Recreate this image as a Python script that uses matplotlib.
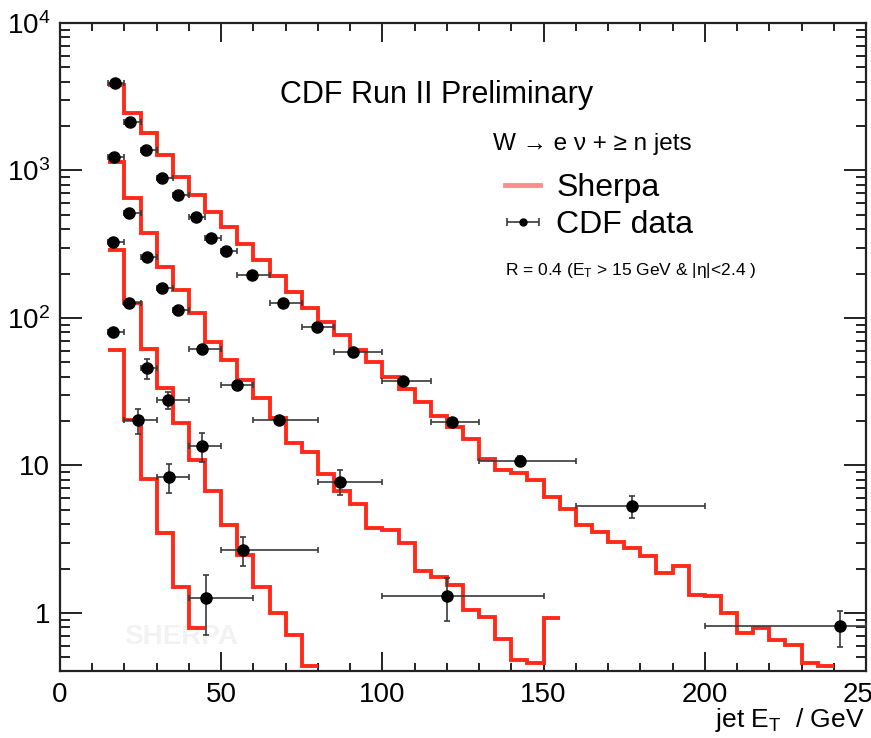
import numpy as np
import matplotlib
matplotlib.use('Agg')
import matplotlib.pyplot as plt
from matplotlib.ticker import MultipleLocator, LogLocator, NullFormatter

plt.rcParams['font.family'] = ['Liberation Sans', 'DejaVu Sans']
plt.rcParams['mathtext.fontset'] = 'custom'
plt.rcParams['mathtext.rm'] = 'Liberation Sans'
plt.rcParams['mathtext.it'] = 'Liberation Sans:italic'
plt.rcParams['mathtext.bf'] = 'Liberation Sans:bold'

# Sherpa predictions, 5 GeV bins from 15 GeV, for >=1, >=2, >=3, >=4 jets
bin_start = 15
bin_width = 5
sherpa_1j = [3800, 2455, 1796, 1274, 903, 682, 523, 414, 317, 247,
             192, 151, 116, 94, 77, 61, 50, 40, 33, 27,
             21.8, 18.3, 15.1, 11.0, 9.3, 8.9, 8.0, 6.1, 5.1, 3.95,
             3.56, 3.01, 2.75, 2.45, 1.86, 2.08, 1.32, 1.30, 1.0, 0.73,
             0.79, 0.66, 0.61, 0.456, 0.44]
sherpa_2j = [1148, 648, 375, 223, 155, 108, 69, 52, 38, 28.6,
             21.0, 14.1, 12.3, 8.8, 6.7, 5.5, 3.75, 3.66, 2.97, 1.91,
             1.76, 1.55, 1.05, 0.94, 0.67, 0.48, 0.456, 0.92]
sherpa_3j = [289, 126, 62, 33.4, 19.3, 10.9, 6.7, 3.95, 2.47, 1.51,
             1.0, 0.71, 0.44]
sherpa_4j = [61, 20.3, 8.1, 3.47, 1.51, 0.79]

# CDF data: point position, bin low/high edge, value, error
cdf_1j_x = [17.1, 21.7, 26.7, 31.7, 36.6, 42.2, 46.8, 51.6, 59.5, 69.3,
            79.7, 91.0, 106.4, 121.6, 142.6, 177.5, 242]
cdf_1j_lo = [15, 20, 25, 30, 35, 40, 45, 50, 55, 65, 75, 85, 100, 115, 130, 160, 200]
cdf_1j_hi = [20, 25, 30, 35, 40, 45, 50, 55, 65, 75, 85, 100, 115, 130, 160, 200, 250]
cdf_1j_y = [3900, 2143, 1377, 885, 682, 486, 347, 286, 196, 126,
            86.5, 59, 37.6, 19.8, 10.8, 5.3, 0.81]
cdf_1j_err = [60, 30, 20, 15, 12, 10, 8, 7, 5, 4, 3, 2.5, 2, 1.3, 0.8, 0.9, 0.22]

cdf_2j_x = [16.8, 21.5, 26.9, 31.6, 36.7, 44.0, 54.9, 67.8, 87.0, 119.9]
cdf_2j_lo = [15, 20, 25, 30, 35, 40, 50, 60, 80, 100]
cdf_2j_hi = [20, 25, 30, 35, 40, 50, 60, 80, 100, 150]
cdf_2j_y = [1241, 517, 261, 159, 113, 62, 35.1, 20.3, 7.77, 1.30]
cdf_2j_err = [25, 12, 7, 5, 4, 3, 2, 1.2, 1.5, 0.42]

cdf_3j_x = [16.4, 21.5, 26.9, 33.6, 44.0, 56.7]
cdf_3j_lo = [15, 20, 25, 30, 40, 50]
cdf_3j_hi = [20, 25, 30, 40, 50, 80]
cdf_3j_y = [329, 126, 45.6, 27.8, 13.6, 2.67]
cdf_3j_err = [15, 7, 7, 3.5, 3, 0.6]

cdf_4j_x = [16.4, 24.3, 33.9, 45.3]
cdf_4j_lo = [15, 20, 30, 40]
cdf_4j_hi = [20, 30, 40, 60]
cdf_4j_y = [80.7, 20.3, 8.4, 1.26]
cdf_4j_err = [4, 4, 1.9, 0.55]

x_ticks = [0, 50, 100, 150, 200, 250]
y_ticks = [1, 10, 100, 1000, 10000]
y_tick_labels = ['1', '10', r'$\mathregular{10^{2}}$', r'$\mathregular{10^{3}}$',
                 r'$\mathregular{10^{4}}$']

red = '#ff2a1a'

fig = plt.figure(figsize=(8.71, 7.38), dpi=100)
ax = fig.add_axes([60 / 871, 67 / 738, 806 / 871, 648 / 738])

for vals in (sherpa_1j, sherpa_2j, sherpa_3j, sherpa_4j):
    edges = bin_start + bin_width * np.arange(len(vals) + 1)
    ax.stairs(vals, edges, baseline=None, color=red, lw=2.8, zorder=2)

datasets = [
    (cdf_1j_x, cdf_1j_lo, cdf_1j_hi, cdf_1j_y, cdf_1j_err),
    (cdf_2j_x, cdf_2j_lo, cdf_2j_hi, cdf_2j_y, cdf_2j_err),
    (cdf_3j_x, cdf_3j_lo, cdf_3j_hi, cdf_3j_y, cdf_3j_err),
    (cdf_4j_x, cdf_4j_lo, cdf_4j_hi, cdf_4j_y, cdf_4j_err),
]
for x, lo, hi, y, err in datasets:
    x = np.array(x)
    xerr = [x - np.array(lo), np.array(hi) - x]
    ax.errorbar(x, y, xerr=xerr, yerr=err, fmt='o', color='black', ms=8,
                ecolor='#3a3a3a', elinewidth=1.2, capsize=2.5, capthick=1.2,
                zorder=3)

ax.set_yscale('log')
ax.set_xlim(0, 250)
ax.set_ylim(0.404, 1e4)
ax.set_xticks(x_ticks)
ax.set_xticklabels([str(t) for t in x_ticks])
ax.xaxis.set_minor_locator(MultipleLocator(10))
ax.set_yticks(y_ticks)
ax.set_yticklabels(y_tick_labels)
ax.yaxis.set_minor_locator(LogLocator(base=10, subs=np.arange(2, 10)))
ax.yaxis.set_minor_formatter(NullFormatter())

ax.tick_params(axis='both', which='both', direction='in', top=True, right=True,
               color='#222222', width=1.4)
ax.tick_params(axis='x', which='major', length=14, labelsize=20, pad=8)
ax.tick_params(axis='x', which='minor', length=6)
ax.tick_params(axis='y', which='major', length=16, labelsize=20, pad=7)
ax.tick_params(axis='y', which='minor', length=7)
for sp in ax.spines.values():
    sp.set_linewidth(1.6)
    sp.set_color('#222222')

# headers and annotations
fig.text(280 / 871, 1 - 103 / 738, 'CDF Run II Preliminary', fontsize=22,
         ha='left', va='baseline')
fig.text(493 / 871, 1 - 150 / 738, 'W \u2192 e \u03bd + \u2265 n jets',
         fontsize=17.5, ha='left', va='baseline')
fig.text(505 / 871, 1 - 275 / 738,
         r'R = 0.4 (E$_\mathregular{T}$ > 15 GeV & |$\mathregular{\eta}$|<2.4 )',
         fontsize=12.5, ha='left', va='baseline')
ax.text(0.15, 0.052, 'SHERPA', transform=ax.transAxes, fontsize=20,
        fontweight='bold', color='#f2f2f2', ha='center', va='center', zorder=0)
fig.text(865 / 871, 1 - 727 / 738, r'jet E$_\mathregular{T}$  / GeV', fontsize=19,
         ha='right', va='baseline')

# legend
h_sherpa, = ax.plot([], [], color='#ff8c8c', lw=3.5)
h_data = ax.errorbar([np.nan], [np.nan], xerr=1, fmt='o', color='black', ms=5,
                     ecolor='#3a3a3a', elinewidth=1.2, capsize=3, capthick=1.2)
ax.legend([h_sherpa, h_data], ['Sherpa', 'CDF data'], loc='upper left',
          bbox_to_anchor=(505 / 871, 1 - 173 / 738), bbox_transform=fig.transFigure,
          frameon=False, fontsize=23, handlelength=1.1, handletextpad=0.5,
          labelspacing=0.22, borderpad=0, borderaxespad=0)

fig.savefig('out.png', dpi=100)
